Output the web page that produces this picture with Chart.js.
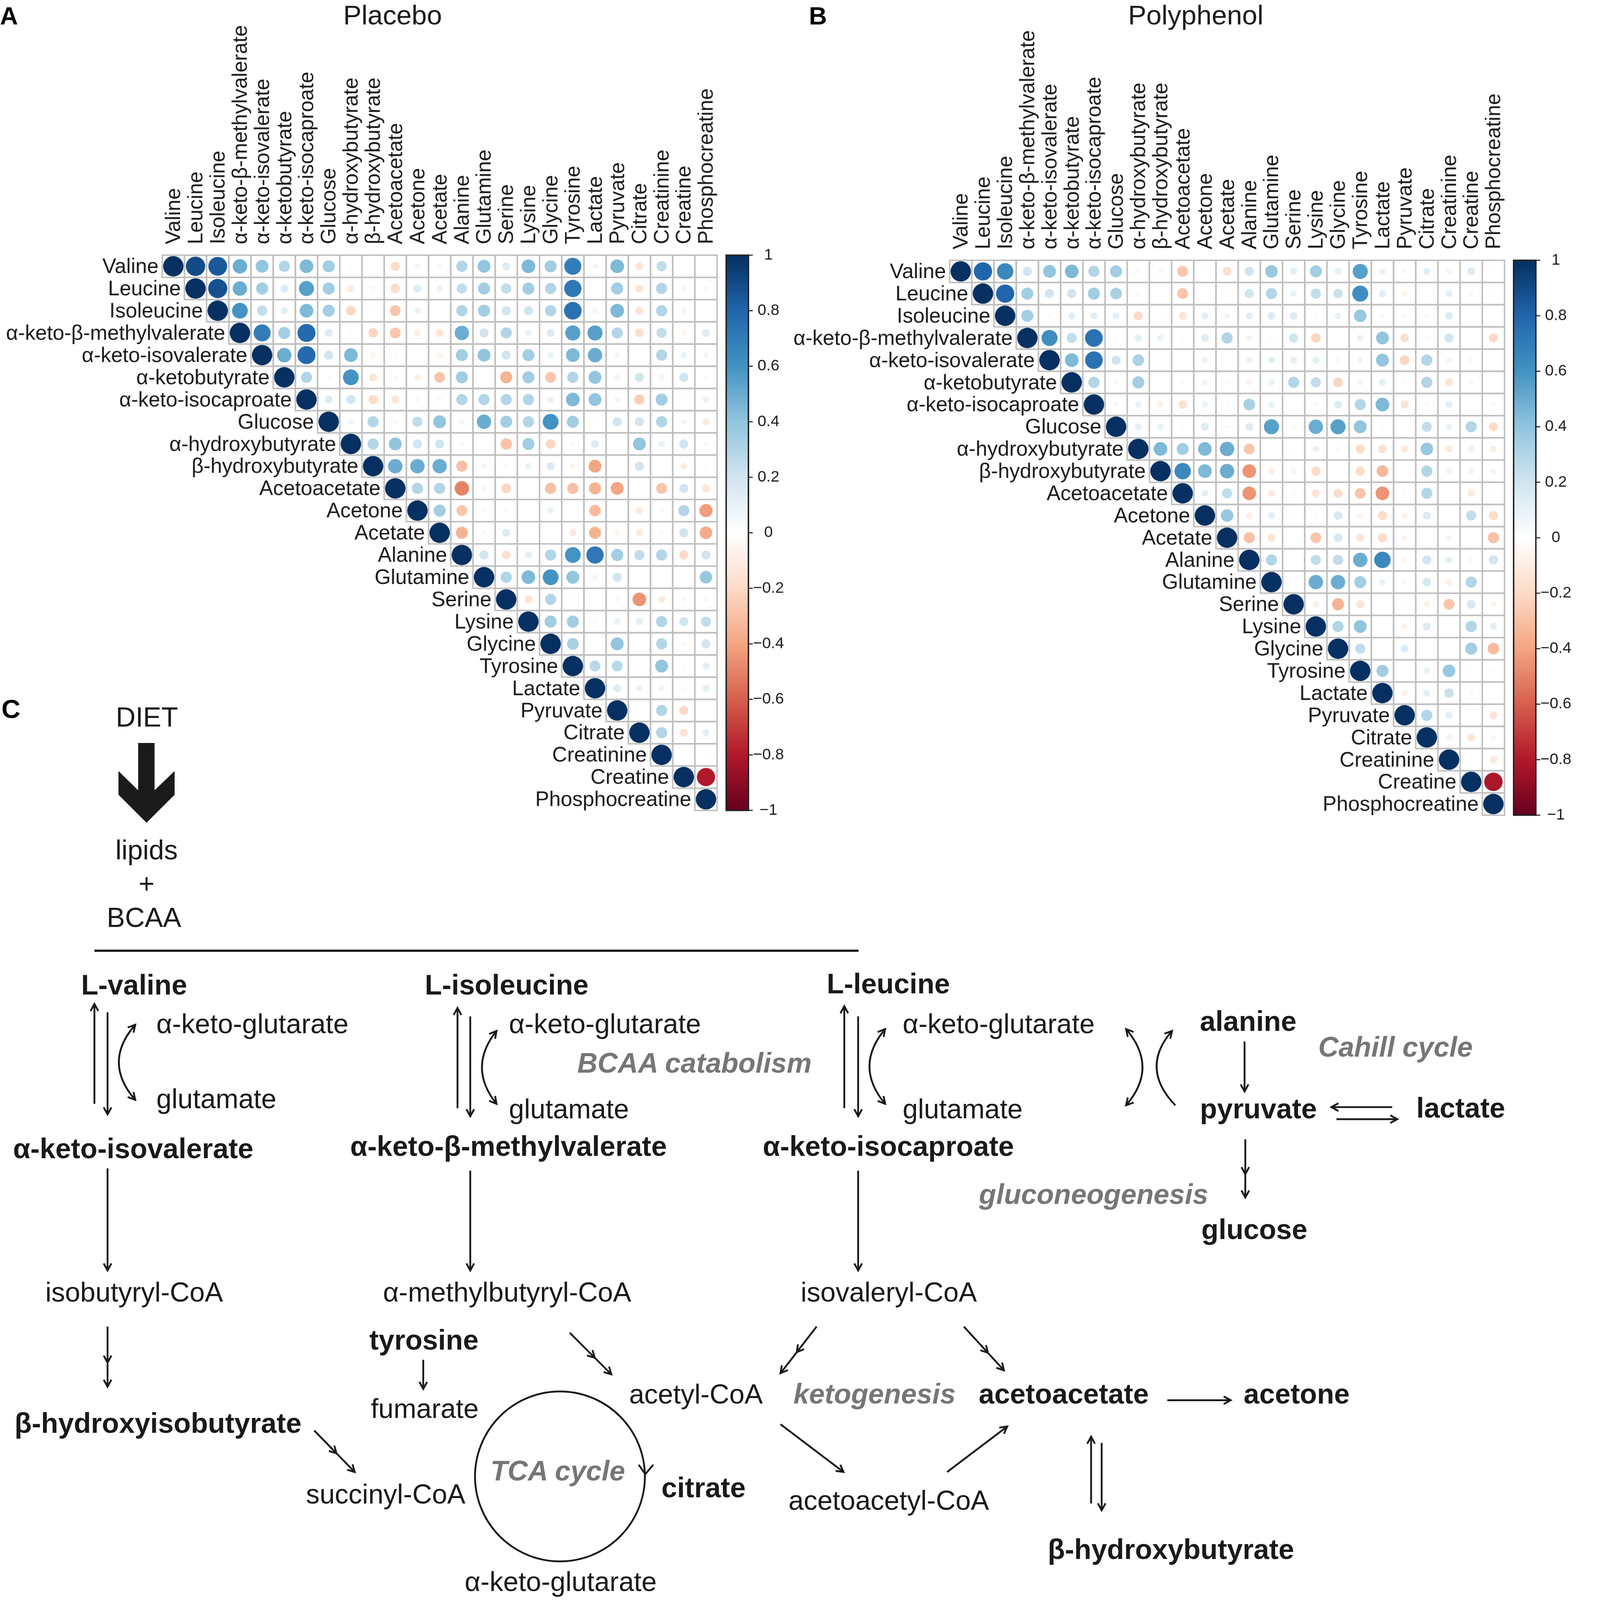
<!DOCTYPE html>
<html>
<head>
<meta charset="utf-8">
<script src="https://cdn.jsdelivr.net/npm/chart.js@4.4.0/dist/chart.umd.min.js"></script>
<style>
html, body { margin: 0; padding: 0; background: #fff; overflow: hidden; }
#page { position: absolute; left: 0; top: 0; width: 4313px; height: 4389px; transform-origin: 0 0; background: #fff; }
canvas { position: absolute; top: 0; }
#pathway { position: absolute; left: 0; top: 0; }
</style>
</head>
<body>
<div id="page">
<canvas id="placebo" width="2160" height="2300" style="left:0"></canvas>
<canvas id="polyphenol" width="2153" height="2300" style="left:2160px"></canvas>
<svg id="pathway" width="4313" height="4389" xmlns="http://www.w3.org/2000/svg"></svg>
</div>
<script>
// fit the 4313x4389 layout into whatever viewport we actually get
const pageScale = Math.min(window.innerWidth / 4313, window.innerHeight / 4389);
document.getElementById('page').style.transform = `scale(${pageScale})`;

// metabolites, same order on both axes
const metabolites = ['Valine', 'Leucine', 'Isoleucine', 'α-keto-β-methylvalerate', 'α-keto-isovalerate',
    'α-ketobutyrate', 'α-keto-isocaproate', 'Glucose', 'α-hydroxybutyrate', 'β-hydroxybutyrate',
    'Acetoacetate', 'Acetone', 'Acetate', 'Alanine', 'Glutamine', 'Serine', 'Lysine', 'Glycine',
    'Tyrosine', 'Lactate', 'Pyruvate', 'Citrate', 'Creatinine', 'Creatine', 'Phosphocreatine'];

// upper triangle, each row starts at the diagonal
const placebo = [
    [1, .9, .85, .5, .4, .3, .45, .35, -.03, 0, -.2, .07, .05, .3, .4, .15, .45, .35, .7, .07, .45, -.15, .25, 0, 0],
    [1, .88, .5, .35, .15, .55, .35, -.12, .05, -.2, .15, .1, .25, .35, .25, .35, .3, .72, 0, .35, -.15, .3, -.07, .05],
    [1, .6, .25, .12, .45, .35, -.22, -.03, -.28, .1, 0, .3, .35, .2, .2, .3, .75, .07, .45, -.15, .3, -.07, 0],
    [1, .7, .35, .78, .15, .03, -.22, -.28, -.1, -.15, .5, .2, .3, .1, .15, .55, .55, .3, -.18, .25, -.07, .15],
    [1, .5, .78, .2, .45, -.07, .03, 0, -.07, .35, .4, .2, .35, .1, .45, .5, .07, 0, .3, .1, .07],
    [1, .3, -.04, .6, -.15, .05, -.1, -.28, .35, .02, -.35, .35, -.28, .3, .4, .07, .2, .07, .2, .03],
    [1, .15, .2, -.2, -.15, .05, -.05, .3, .3, .3, .3, .1, .45, .4, .07, -.25, .35, .03, .1],
    [1, .07, .3, -.05, .25, .4, .07, .5, .35, .3, .6, .35, -.03, .2, .2, .3, .07, -.12],
    [1, .3, .4, .2, .2, .05, .02, -.3, .35, -.22, -.05, .15, .02, .4, .1, .2, -.05],
    [1, .5, .5, .5, -.3, .07, -.05, .1, .15, -.07, -.4, .02, .2, .02, -.1, .03],
    [1, .3, .3, -.5, -.07, -.22, .01, -.3, -.3, -.35, -.4, .01, -.28, .2, -.15],
    [1, .35, -.28, -.05, .05, .02, .1, .01, -.32, 0, -.12, -.05, .3, -.42],
    [1, -.35, -.05, .15, .02, .02, -.12, -.35, -.07, -.12, .05, .2, -.38],
    [1, .2, -.18, .12, .3, .6, .72, .35, .25, .3, -.2, .2],
    [1, .3, .45, .6, .4, .07, .2, .01, .02, 0, .38],
    [1, -.15, .3, .03, .01, -.05, -.45, -.12, .05, -.05],
    [1, .35, .35, -.05, .1, .12, .3, .2, .25],
    [1, .33, .01, .4, .01, .3, -.05, .2],
    [1, .28, .28, 0, .4, -.03, .12],
    [1, .15, .1, .08, -.04, .12],
    [1, .01, .3, -.2, .02],
    [1, .3, -.15, .12],
    [1, .01, -.03],
    [1, -.8],
    [1]
];

const polyphenol = [
    [1, .8, .65, .2, .4, .45, .3, .35, -.05, -.05, -.28, .03, -.18, .2, .38, .12, .35, .12, .55, .1, .05, .12, .07, .15, -.03],
    [1, .8, .35, .2, .2, .35, .33, -.05, -.03, -.28, 0, .03, .2, .3, .1, .25, .22, .62, .12, -.07, 0, .12, .05, -.03],
    [1, .35, .03, .12, .12, .12, -.2, .03, -.15, .12, .08, .12, .15, .15, .03, .1, .38, .05, -.05, -.05, .15, 0, -.02],
    [1, .62, .25, .75, -.03, .12, .1, -.03, .15, .3, .08, -.04, .2, -.22, .02, .1, .4, -.17, -.04, .2, 0, -.2],
    [1, .45, .75, .2, .32, .02, .03, .1, -.03, .1, .12, .12, .12, -.05, .08, .4, -.22, .3, .07, .05, -.03],
    [1, .3, .05, .35, .02, -.05, .08, -.04, -.07, .1, .3, .25, -.22, .08, .12, .03, .3, -.15, .05, 0],
    [1, .05, .1, -.08, -.17, .1, .03, .33, .1, 0, .04, .15, .3, .45, -.15, .04, .12, 0, -.05],
    [1, .12, .1, -.04, .15, .05, .15, .55, -.05, .5, .55, .4, .04, 0, .25, .1, .3, -.2],
    [1, .45, .35, .45, .5, -.28, .03, -.03, .1, .05, -.2, -.17, -.12, .38, -.12, .1, -.1],
    [1, .65, .45, .5, -.45, -.1, -.07, -.2, .01, -.2, -.33, 0, .3, .08, -.08, -.07],
    [1, .12, .25, -.45, -.12, -.04, -.15, -.2, -.28, -.45, -.03, .3, 0, -.12, .03],
    [1, .38, -.1, .12, -.03, .03, .18, -.08, -.2, -.08, .15, .02, .25, -.2],
    [1, -.3, -.15, 0, -.28, .18, -.15, -.2, -.07, .02, .07, 0, -.3],
    [1, .3, .01, .25, .25, .5, .65, .05, .2, .12, -.05, .2],
    [1, -.02, .5, .5, .35, .1, .05, .18, -.1, .3, 0],
    [1, -.1, -.35, -.15, 0, -.03, -.08, -.28, .18, -.07],
    [1, .3, .4, .02, -.08, .15, .01, .3, .12],
    [1, .25, -.02, .15, 0, .02, .35, -.32],
    [1, .35, .02, .1, .38, -.03, .03],
    [1, -.08, .12, .22, -.05, .02],
    [1, .3, .12, .02, -.15],
    [1, .08, -.15, .06],
    [1, -.02, -.13],
    [1, -.82],
    [1]
];

const colorbarTicks = [1, 0.8, 0.6, 0.4, 0.2, 0, -0.2, -0.4, -0.6, -0.8, -1];

const FONT = '"Liberation Sans", Arial, Helvetica, sans-serif';
const rdbu = ['#67001F', '#B2182B', '#D6604D', '#F4A582', '#FDDBC7', '#FFFFFF',
    '#D1E5F0', '#92C5DE', '#4393C3', '#2166AC', '#053061'];

function hexToRgb(h) {
    return [parseInt(h.slice(1, 3), 16), parseInt(h.slice(3, 5), 16), parseInt(h.slice(5, 7), 16)];
}

// corrplot style RdBu colour for a correlation
function colorFor(v) {
    const t = (Math.max(-1, Math.min(1, v)) + 1) / 2 * (rdbu.length - 1);
    const i = Math.min(Math.floor(t), rdbu.length - 2);
    const f = t - i;
    const a = hexToRgb(rdbu[i]), b = hexToRgb(rdbu[i + 1]);
    const c = a.map((x, k) => Math.round(x + (b[k] - x) * f));
    return `rgb(${c[0]},${c[1]},${c[2]})`;
}

function toPoints(rows) {
    const pts = [];
    rows.forEach((row, i) => {
        row.forEach((v, k) => pts.push({ x: i + k, y: i, v: v }));
    });
    return pts;
}

function cellSize(chart) {
    const xs = chart.scales.x;
    return Math.abs(xs.getPixelForValue(1) - xs.getPixelForValue(0));
}

// grid, labels, titles and colour bar
const corrDecor = {
    id: 'corrDecor',
    beforeDatasetsDraw(chart, args, opts) {
        const ctx = chart.ctx, xs = chart.scales.x, ys = chart.scales.y;
        const n = metabolites.length;
        ctx.save();
        ctx.strokeStyle = '#BEBEBE';
        ctx.lineWidth = 4;
        for (let i = 0; i < n; i++) {
            for (let j = i; j < n; j++) {
                const x0 = xs.getPixelForValue(j - 0.5), x1 = xs.getPixelForValue(j + 0.5);
                const y0 = ys.getPixelForValue(i - 0.5), y1 = ys.getPixelForValue(i + 0.5);
                ctx.strokeRect(x0, y0, x1 - x0, y1 - y0);
            }
        }
        ctx.restore();
    },
    afterDraw(chart, args, opts) {
        const ctx = chart.ctx, xs = chart.scales.x, ys = chart.scales.y, cb = chart.scales.cb;
        const area = chart.chartArea;
        ctx.save();
        ctx.fillStyle = '#1a1a1a';

        // row labels next to the diagonal
        ctx.font = `57px ${FONT}`;
        ctx.textAlign = 'right';
        ctx.textBaseline = 'middle';
        metabolites.forEach((m, i) => {
            ctx.fillText(m, xs.getPixelForValue(i - 0.5) - 10, ys.getPixelForValue(i) + 3);
        });

        // column labels on top
        ctx.textAlign = 'left';
        metabolites.forEach((m, j) => {
            ctx.save();
            ctx.translate(xs.getPixelForValue(j) + 3, area.top - 30);
            ctx.rotate(-Math.PI / 2);
            ctx.fillText(m, 0, 0);
            ctx.restore();
        });

        // title and panel letter
        ctx.textBaseline = 'alphabetic';
        ctx.textAlign = 'center';
        ctx.font = `75px ${FONT}`;
        ctx.fillText(opts.title, opts.titleX, 67);
        ctx.textAlign = 'left';
        ctx.font = `bold 68px ${FONT}`;
        ctx.fillStyle = '#000';
        ctx.fillText(opts.letter, opts.letterX, 67);

        // colour bar
        const left = area.right + 25, w = 61;
        const top = cb.getPixelForValue(1), bottom = cb.getPixelForValue(-1);
        const grad = ctx.createLinearGradient(0, top, 0, bottom);
        for (let k = 0; k < rdbu.length; k++) grad.addColorStop(k / (rdbu.length - 1), rdbu[rdbu.length - 1 - k]);
        ctx.fillStyle = grad;
        ctx.fillRect(left, top, w, bottom - top);
        ctx.strokeStyle = '#222';
        ctx.lineWidth = 4;
        ctx.strokeRect(left, top, w, bottom - top);
        ctx.lineWidth = 3;
        ctx.fillStyle = '#1a1a1a';
        ctx.font = `43px ${FONT}`;
        ctx.textAlign = 'center';
        ctx.textBaseline = 'middle';
        colorbarTicks.forEach(t => {
            const y = cb.getPixelForValue(t);
            ctx.beginPath();
            ctx.moveTo(left + w, y);
            ctx.lineTo(left + w + 12, y);
            ctx.stroke();
            const lab = t === 0 ? '0' : (t < 0 ? '\u2212' : '') + Math.abs(t);
            ctx.fillText(lab, left + w + 55, y);
        });
        ctx.restore();
    }
};

function makeCorrChart(id, rows, decor, padding) {
    const n = metabolites.length;
    return new Chart(document.getElementById(id), {
        type: 'scatter',
        data: {
            datasets: [{
                data: toPoints(rows),
                clip: false,
                pointStyle: 'circle',
                borderWidth: 0,
                pointRadius: ctx => ctx.raw ? 0.46 * cellSize(ctx.chart) * Math.sqrt(Math.abs(ctx.raw.v)) : 0,
                pointHoverRadius: ctx => ctx.raw ? 0.46 * cellSize(ctx.chart) * Math.sqrt(Math.abs(ctx.raw.v)) : 0,
                pointBackgroundColor: ctx => ctx.raw ? colorFor(ctx.raw.v) : 'transparent',
                pointBorderColor: ctx => ctx.raw ? colorFor(ctx.raw.v) : 'transparent'
            }]
        },
        options: {
            responsive: false,
            animation: false,
            events: [],
            layout: { padding: padding },
            plugins: {
                legend: { display: false },
                tooltip: { enabled: false },
                corrDecor: decor
            },
            scales: {
                x: { type: 'linear', min: -0.5, max: n - 0.5, display: false },
                y: { type: 'linear', min: -0.5, max: n - 0.5, reverse: true, display: false },
                cb: { type: 'linear', axis: 'y', min: -1, max: 1, display: false }
            }
        },
        plugins: [corrDecor]
    });
}

makeCorrChart('placebo', placebo,
    { title: 'Placebo', titleX: 1077, letter: 'A', letterX: 0 },
    { left: 445, top: 700, right: 193, bottom: 77 });

makeCorrChart('polyphenol', polyphenol,
    { title: 'Polyphenol', titleX: 1120, letter: 'B', letterX: 59 },
    { left: 445, top: 714, right: 186, bottom: 64 });

// ---- panel C: pathway scheme ----
const NS = 'http://www.w3.org/2000/svg';
const svg = document.getElementById('pathway');
const INK = '#1a1a1a';

function el(tag, attrs, text) {
    const e = document.createElementNS(NS, tag);
    for (const k in attrs) e.setAttribute(k, attrs[k]);
    if (text) e.textContent = text;
    svg.appendChild(e);
    return e;
}

function head(x, y, ang) {
    const L = 22, a = 0.5;
    const p1 = [x - L * Math.cos(ang - a), y - L * Math.sin(ang - a)];
    const p2 = [x - L * Math.cos(ang + a), y - L * Math.sin(ang + a)];
    el('polyline', { points: `${p1} ${x},${y} ${p2}`, fill: 'none', stroke: INK, 'stroke-width': 5 });
}

function arrow(x1, y1, x2, y2, mid) {
    el('line', { x1, y1, x2, y2, stroke: INK, 'stroke-width': 5 });
    const ang = Math.atan2(y2 - y1, x2 - x1);
    head(x2, y2, ang);
    if (mid) head(x1 + (x2 - x1) * mid, y1 + (y2 - y1) * mid, ang);
}

function curve(x1, y1, cx, cy, x2, y2, both) {
    el('path', { d: `M${x1},${y1} Q${cx},${cy} ${x2},${y2}`, fill: 'none', stroke: INK, 'stroke-width': 5 });
    head(x2, y2, Math.atan2(y2 - cy, x2 - cx));
    if (both) head(x1, y1, Math.atan2(y1 - cy, x1 - cx));
}

function label(t, x, y, anchor, kind) {
    const attrs = { x, y, 'text-anchor': anchor, 'font-family': FONT, fill: INK, 'font-size': 75 };
    if (kind === 'b') { attrs['font-weight'] = 'bold'; attrs['font-size'] = 77; }
    if (kind === 'g') {
        attrs['font-weight'] = 'bold'; attrs['font-style'] = 'italic';
        attrs['font-size'] = 77; attrs.fill = '#767676';
    }
    el('text', attrs, t);
}

el('text', { x: 4, y: 1970, 'font-family': FONT, 'font-weight': 'bold', 'font-size': 72, fill: '#000' }, 'C');
label('DIET', 403, 1993, 'middle', 'r');
el('polygon', { points: '379,2038 424,2038 424,2168 479,2115 479,2180 402,2257 325,2180 325,2115 379,2168', fill: '#1a1a1a' });
label('lipids', 402, 2357, 'middle', 'r');
label('+', 402, 2450, 'middle', 'r');
label('BCAA', 395, 2543, 'middle', 'r');
el('line', { x1: 259, y1: 2608, x2: 2355, y2: 2608, stroke: INK, 'stroke-width': 6 });

// valine branch
label('L-valine', 368, 2728, 'middle', 'b');
label('α-keto-glutarate', 429, 2834, 'start', 'r');
label('glutamate', 429, 3040, 'start', 'r');
label('α-keto-isovalerate', 36, 3177, 'start', 'b');
label('isobutyryl-CoA', 368, 3570, 'middle', 'r');
label('β-hydroxyisobutyrate', 40, 3930, 'start', 'b');
label('succinyl-CoA', 1058, 4124, 'middle', 'r');
arrow(259, 3028, 259, 2754);
arrow(295, 2777, 295, 3057);
curve(371, 2811, 281, 2914, 371, 3017, true);
arrow(295, 3205, 295, 3485);
arrow(295, 3639, 295, 3804, 0.6);
arrow(862, 3924, 973, 4038, 0.55);

// isoleucine branch
label('L-isoleucine', 1390, 2728, 'middle', 'b');
label('α-keto-glutarate', 1396, 2834, 'start', 'r');
label('BCAA catabolism', 1905, 2942, 'middle', 'g');
label('glutamate', 1396, 3068, 'start', 'r');
label('α-keto-β-methylvalerate', 1395, 3171, 'middle', 'b');
label('α-methylbutyryl-CoA', 1391, 3570, 'middle', 'r');
label('tyrosine', 1163, 3702, 'middle', 'b');
label('fumarate', 1165, 3890, 'middle', 'r');
arrow(1255, 3040, 1255, 2765);
arrow(1290, 2788, 1290, 3062);
curve(1362, 2828, 1282, 2928, 1362, 3028, true);
arrow(1290, 3211, 1290, 3485);
arrow(1161, 3730, 1161, 3810);
arrow(1563, 3656, 1677, 3770, 0.6);

// TCA cycle
el('circle', { cx: 1536, cy: 4050, r: 233, fill: 'none', stroke: INK, 'stroke-width': 5 });
el('polyline', { points: '1752,4018 1770,4044 1792,4018', fill: 'none', stroke: INK, 'stroke-width': 5 });
label('TCA cycle', 1530, 4061, 'middle', 'g');
label('α-keto-glutarate', 1538, 4364, 'middle', 'r');
label('acetyl-CoA', 1909, 3850, 'middle', 'r');
label('citrate', 1930, 4107, 'middle', 'b');

// leucine branch and ketogenesis
label('L-leucine', 2437, 2725, 'middle', 'b');
label('α-keto-glutarate', 2476, 2834, 'start', 'r');
label('glutamate', 2476, 3068, 'start', 'r');
label('α-keto-isocaproate', 2437, 3171, 'middle', 'b');
label('isovaleryl-CoA', 2438, 3570, 'middle', 'r');
label('ketogenesis', 2399, 3850, 'middle', 'g');
label('acetoacetate', 2918, 3850, 'middle', 'b');
label('acetoacetyl-CoA', 2438, 4141, 'middle', 'r');
label('acetone', 3557, 3850, 'middle', 'b');
label('β-hydroxybutyrate', 3212, 4276, 'middle', 'b');
arrow(2316, 3040, 2316, 2760);
arrow(2354, 2788, 2354, 3062);
curve(2428, 2823, 2342, 2925, 2428, 3028, true);
arrow(2354, 3211, 2354, 3485);
arrow(2240, 3639, 2141, 3767, 0.55);
arrow(2644, 3639, 2754, 3759, 0.6);
arrow(2141, 3907, 2314, 4038);
arrow(2598, 4038, 2763, 3913);
arrow(3202, 3841, 3376, 3841);
arrow(2993, 4124, 2993, 3941);
arrow(3022, 3958, 3022, 4143);

// Cahill cycle and gluconeogenesis
label('alanine', 3424, 2828, 'middle', 'b');
label('Cahill cycle', 3828, 2899, 'middle', 'g');
label('pyruvate', 3452, 3068, 'middle', 'b');
label('lactate', 4007, 3066, 'middle', 'b');
label('gluconeogenesis', 3000, 3302, 'middle', 'g');
label('glucose', 3441, 3399, 'middle', 'b');
curve(3089, 2823, 3179, 2928, 3089, 3032, true);
curve(3224, 3032, 3126, 2930, 3215, 2828, false);
arrow(3414, 2857, 3414, 2994);
arrow(3819, 3037, 3652, 3037);
arrow(3666, 3070, 3833, 3070);
arrow(3416, 3125, 3416, 3285, 0.6);
</script>
</body>
</html>
